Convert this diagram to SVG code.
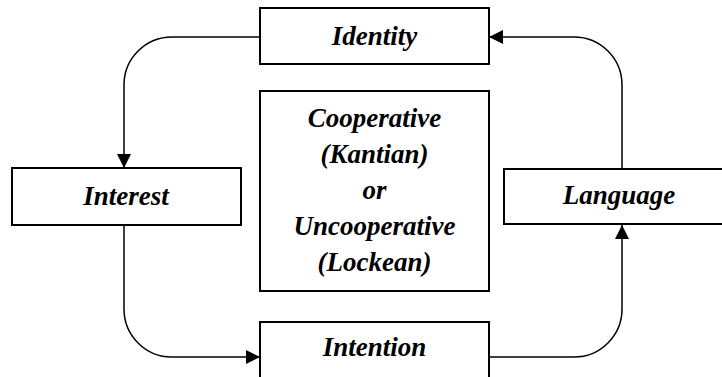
<svg xmlns="http://www.w3.org/2000/svg" width="722" height="377" viewBox="0 0 722 377">
<style>
.box{fill:#fff;stroke:#000;stroke-width:2}
.lbl{font-family:"Liberation Serif","Times New Roman",serif;font-weight:bold;font-style:italic;font-size:27px;fill:#000;text-anchor:middle}
.conn{fill:none;stroke:#000;stroke-width:1.5}
</style>
<defs>
<marker id="ah" markerWidth="14" markerHeight="14" viewBox="0 0 14 14" refX="14" refY="7" orient="auto" markerUnits="userSpaceOnUse">
<path d="M0,0 L14,7 L0,14 Z" fill="#000"/>
</marker>
</defs>
<rect width="722" height="377" fill="#fff"/>
<g id="connectors">
<path class="conn" d="M260,37 H172 A48,48 0 0 0 124,85 V168" marker-end="url(#ah)"/>
<path class="conn" d="M124,225 V309 A48,48 0 0 0 172,357 H260" marker-end="url(#ah)"/>
<path class="conn" d="M489,357 H574 A48,48 0 0 0 622,309 V225" marker-end="url(#ah)"/>
<path class="conn" d="M622,169 V85 A48,48 0 0 0 574,37 H489" marker-end="url(#ah)"/>
</g>
<g id="identity">
<rect class="box" x="260" y="8" width="229" height="56"/>
<text class="lbl" x="374.5" y="45">Identity</text>
</g>
<g id="center">
<rect class="box" x="260" y="91" width="229" height="200"/>
<text class="lbl" x="374.5" y="126.5">Cooperative</text>
<text class="lbl" x="374.5" y="162.5">(Kantian)</text>
<text class="lbl" x="374.5" y="198.5">or</text>
<text class="lbl" x="374.5" y="234.5">Uncooperative</text>
<text class="lbl" x="374.5" y="270.5">(Lockean)</text>
</g>
<g id="interest">
<rect class="box" x="12" y="168" width="229" height="57"/>
<text class="lbl" x="126" y="204.5">Interest</text>
</g>
<g id="language">
<rect class="box" x="504" y="169" width="230" height="55"/>
<text class="lbl" x="619" y="204">Language</text>
</g>
<g id="intention">
<rect class="box" x="260" y="322" width="229" height="60"/>
<text class="lbl" x="374.5" y="356">Intention</text>
</g>
</svg>
